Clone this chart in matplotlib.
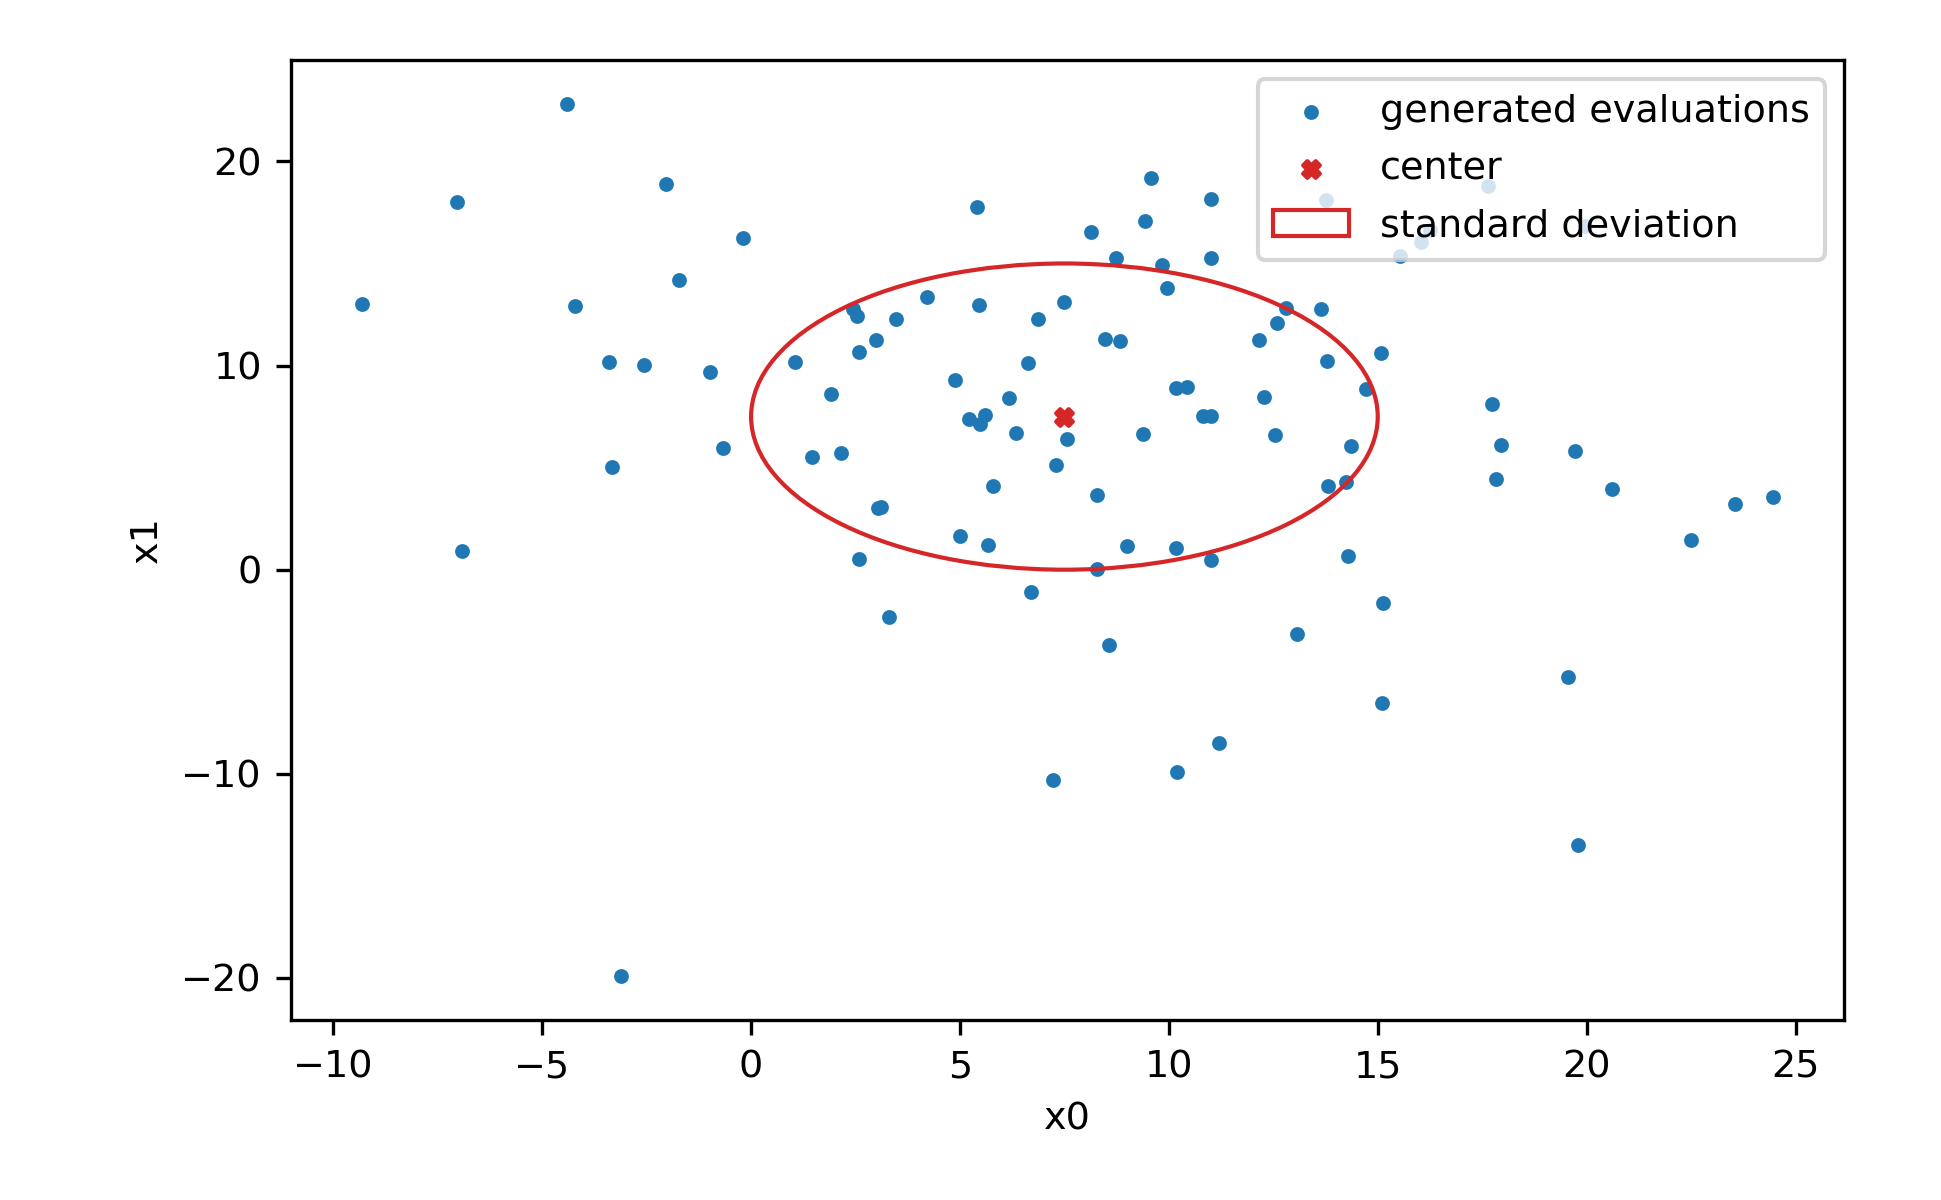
import matplotlib
matplotlib.use("Agg")
import matplotlib.pyplot as plt
from matplotlib.patches import Ellipse

plt.rcParams['font.size'] = 9.15

# evaluated points (x0, x1)
x0 = [-4.41, -2.04, -7.04, -0.19, -1.72, -9.32, -4.22, -3.40, -2.56, -0.99,
      1.05, -0.68, -3.33, -6.93, -3.11,
      5.40, 9.57, 11.02, 9.44, 8.13, 8.73, 9.83, 11.00, 9.95, 2.44,
      2.53, 4.20, 5.45, 7.48, 3.48, 6.86, 3.00, 8.47, 8.82, 2.59,
      6.62, 12.81, 13.64, 12.60, 12.15, 13.78, 1.92, 4.89, 6.18, 10.18,
      10.43, 12.27, 5.21, 5.61, 5.47, 10.82, 11.00, 6.33, 7.55, 9.37,
      12.53, 1.45, 2.16, 7.29, 5.80, 8.29, 3.04, 3.11, 4.99, 5.68,
      8.99, 10.18, 13.81,
      2.59, 11.02, 8.27, 6.71, 3.31, 8.56, 13.07, 11.19, 10.19, 7.22,
      15.08, 14.72, 14.36, 14.24, 17.74, 17.94, 19.71, 17.84, 20.61, 23.56,
      24.47, 22.50, 14.30, 15.13, 15.09, 19.56, 19.80,
      13.77, 17.65, 16.25, 16.04, 15.54, 19.95]
x1 = [22.83, 18.91, 18.02, 16.26, 14.20, 13.02, 12.93, 10.18, 10.03, 9.69,
      10.18, 5.97, 5.03, 0.90, -19.92,
      17.78, 19.20, 18.15, 17.09, 16.55, 15.28, 14.95, 15.28, 13.81, 12.79,
      12.42, 13.37, 12.97, 13.12, 12.26, 12.29, 11.26, 11.31, 11.21, 10.67,
      10.13, 12.83, 12.78, 12.09, 11.26, 10.23, 8.61, 9.30, 8.42, 8.91,
      8.96, 8.47, 7.39, 7.58, 7.14, 7.53, 7.53, 6.70, 6.41, 6.65,
      6.60, 5.52, 5.72, 5.13, 4.10, 3.66, 3.02, 3.09, 1.67, 1.23,
      1.18, 1.06, 4.10,
      0.52, 0.47, 0.03, -1.09, -2.32, -3.69, -3.15, -8.50, -9.92, -10.31,
      10.62, 8.86, 6.06, 4.30, 8.12, 6.11, 5.83, 4.45, 3.96, 3.22,
      3.56, 1.45, 0.67, -1.63, -6.53, -5.26, -13.50,
      18.09, 18.81, 16.65, 16.05, 15.36, 16.83]

center = [7.5, 7.5]
std = [7.5, 7.5]

fig, ax = plt.subplots(figsize=(1941 / 300, 1200 / 300), dpi=300)
fig.subplots_adjust(left=0.15, right=0.95, bottom=0.15, top=0.95)

ax.scatter(x0, x1, s=6.5, color='tab:blue', label='generated evaluations')
ax.scatter([center[0]], [center[1]], s=16, marker='X', color='tab:red', label='center')
ell = Ellipse(center, 2 * std[0], 2 * std[1], fill=False, edgecolor='tab:red',
              label='standard deviation')
ax.add_patch(ell)

ax.set_xlabel('x0')
ax.set_ylabel('x1')
ax.legend(loc='upper right', labelspacing=0.55)

fig.savefig('out.png', dpi=300)
